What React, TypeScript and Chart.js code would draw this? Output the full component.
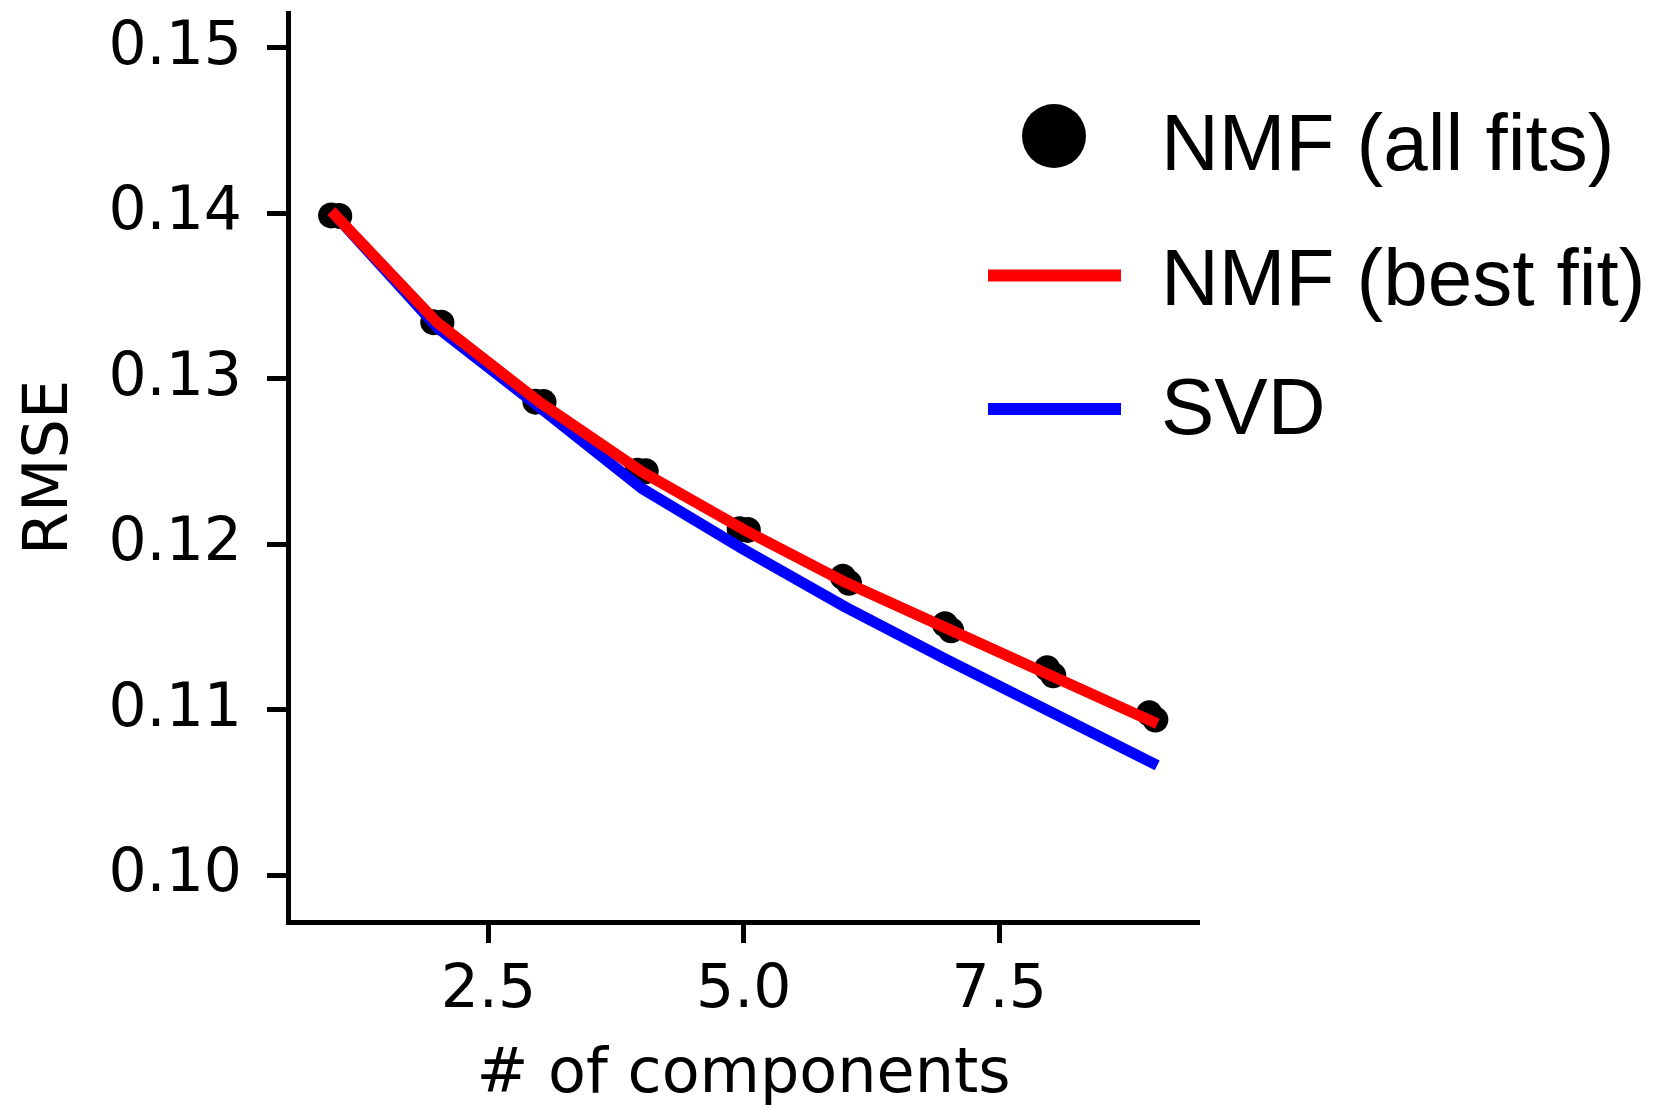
import React, { useEffect, useRef } from 'react';
import { Chart, registerables } from 'chart.js';

Chart.register(...registerables);

// ---- data ----
const componentCounts = [1, 2, 3, 4, 5, 6, 7, 8, 9];
const nmfBestFit = [0.1399, 0.1334, 0.1286, 0.1244, 0.1209, 0.1177, 0.1149, 0.1121, 0.1093];
const svdRmse = [0.1399, 0.1331, 0.1283, 0.1234, 0.1197, 0.1162, 0.1130, 0.1099, 0.1068];
const nmfAllFitsX = [0.96, 1.04, 1.96, 2.04, 2.96, 3.04, 3.96, 4.04, 4.96, 5.04, 5.97, 6.03, 6.97, 7.03, 7.97, 8.03, 8.97, 9.03];
const nmfAllFitsY = [
  0.13988, 0.13985, 0.13343, 0.1334, 0.12863, 0.1286, 0.12446, 0.12442, 0.12092, 0.12088,
  0.11805, 0.11768, 0.11518, 0.11482, 0.11252, 0.1121, 0.1098, 0.10942,
];
const xTicks = [2.5, 5.0, 7.5];
const yTicks = [0.1, 0.11, 0.12, 0.13, 0.14, 0.15];
const xTitle = '# of components';
const yTitle = 'RMSE';
const seriesLabels = ['NMF (all fits)', 'NMF (best fit)', 'SVD'];

const TICK_FONT = 'DejaVu Sans';
const LEGEND_FONT = '"Liberation Sans", Arial, Helvetica, sans-serif';

const legendPlugin = {
  id: 'customLegend',
  afterDraw(chart: any) {
    const ctx = chart.ctx;
    const ds = chart.data.datasets;
    ctx.save();
    // row 1: marker
    ctx.fillStyle = ds[0].pointBackgroundColor;
    ctx.beginPath();
    ctx.arc(1054, 136, 32, 0, Math.PI * 2);
    ctx.fill();
    // rows 2 & 3: line handles
    const lineYs = [275.5, 409];
    [1, 2].forEach((i, k) => {
      ctx.strokeStyle = ds[i].borderColor;
      ctx.lineWidth = 12;
      ctx.lineCap = 'butt';
      ctx.beginPath();
      ctx.moveTo(988, lineYs[k]);
      ctx.lineTo(1121, lineYs[k]);
      ctx.stroke();
    });
    ctx.fillStyle = '#000';
    ctx.font = `80px ${LEGEND_FONT}`;
    ctx.textAlign = 'left';
    ctx.textBaseline = 'alphabetic';
    const baselines = [170, 305, 434];
    ds.forEach((d: any, i: number) => {
      ctx.fillText(d.label, 1161, baselines[i]);
    });
    ctx.restore();
  },
};

export default function App() {
  const canvasRef = useRef<HTMLCanvasElement | null>(null);

  useEffect(() => {
    const canvas = canvasRef.current;
    if (!canvas) return;
    const chart = new Chart(canvas, {
      type: 'scatter',
      data: {
        datasets: [
          {
            label: seriesLabels[0],
            data: nmfAllFitsX.map((x, i) => ({ x, y: nmfAllFitsY[i] })),
            pointRadius: 13,
            pointBackgroundColor: '#000000',
            pointBorderWidth: 0,
            showLine: false,
            order: 3,
          } as any,
          {
            label: seriesLabels[1],
            data: componentCounts.map((x, i) => ({ x, y: nmfBestFit[i] })),
            showLine: true,
            borderColor: '#ff0000',
            borderWidth: 11,
            borderCapStyle: 'square',
            borderJoinStyle: 'round',
            pointRadius: 0,
            order: 1,
          },
          {
            label: seriesLabels[2],
            data: componentCounts.map((x, i) => ({ x, y: svdRmse[i] })),
            showLine: true,
            borderColor: '#0000ff',
            borderWidth: 11,
            borderCapStyle: 'square',
            borderJoinStyle: 'round',
            pointRadius: 0,
            order: 2,
          },
        ],
      },
      options: {
        responsive: false,
        animation: false,
        devicePixelRatio: 1,
        layout: { padding: { top: 13, right: 455, bottom: 0, left: 0 } },
        plugins: {
          legend: { display: false },
          tooltip: { enabled: false },
        },
        scales: {
          x: {
            type: 'linear',
            min: 0.538,
            max: 9.457,
            afterBuildTicks: (scale: any) => {
              scale.ticks = xTicks.map((v) => ({ value: v }));
            },
            afterFit: (scale: any) => {
              scale.height = 186;
              scale.paddingLeft = 0;
              scale.paddingRight = 0;
            },
            ticks: {
              color: '#000',
              font: { family: TICK_FONT, size: 60 },
              padding: 12,
              maxRotation: 0,
              autoSkip: false,
              callback: (v: any) => Number(v).toFixed(1),
            },
            grid: {
              drawOnChartArea: false,
              drawTicks: true,
              tickLength: 21,
              tickWidth: 5,
              tickColor: '#000',
            },
            border: { display: true, color: '#000', width: 5 },
            title: {
              display: true,
              text: xTitle,
              color: '#000',
              font: { family: TICK_FONT, size: 62, lineHeight: 1 },
              padding: { top: 0, bottom: 1 },
            },
          },
          y: {
            type: 'linear',
            min: 0.09719,
            max: 0.15211,
            afterBuildTicks: (scale: any) => {
              scale.ticks = yTicks.map((v) => ({ value: v }));
            },
            afterFit: (scale: any) => {
              scale.width = 288;
              scale.paddingTop = 0;
              scale.paddingBottom = 0;
            },
            ticks: {
              color: '#000',
              font: { family: TICK_FONT, size: 60 },
              padding: 25,
              autoSkip: false,
              callback: (v: any) => Number(v).toFixed(2),
            },
            grid: {
              drawOnChartArea: false,
              drawTicks: true,
              tickLength: 21,
              tickWidth: 5,
              tickColor: '#000',
            },
            border: { display: true, color: '#000', width: 5 },
            title: {
              display: true,
              text: yTitle,
              color: '#000',
              font: { family: TICK_FONT, size: 62, lineHeight: 1 },
              padding: { top: 20, bottom: 0 },
            },
          },
        },
      },
      plugins: [legendPlugin],
    });
    return () => chart.destroy();
  }, []);

  return (
    <div style={{ position: 'absolute', left: 0, top: 0, width: 1654, height: 1108, background: '#fff' }}>
      <canvas ref={canvasRef} width={1654} height={1108} style={{ display: 'block', width: 1654, height: 1108 }} />
    </div>
  );
}
